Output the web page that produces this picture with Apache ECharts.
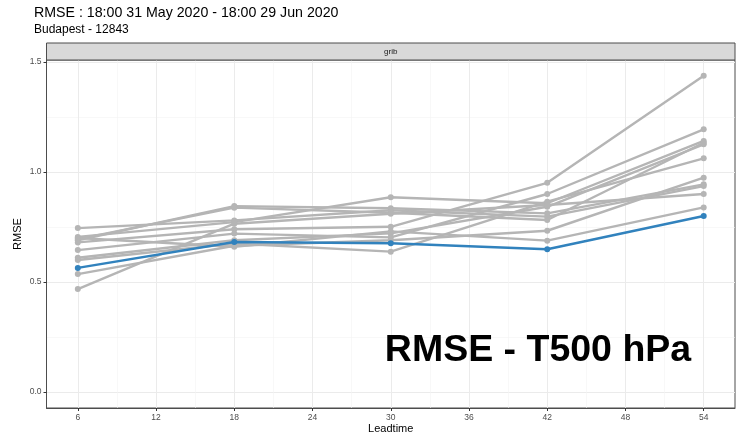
<!DOCTYPE html>
<html>
<head>
<meta charset="utf-8">
<script src="https://cdn.jsdelivr.net/npm/echarts@6/dist/echarts.min.js"></script>
<style>
html,body{margin:0;padding:0;background:#fff;}
#chart{width:738px;height:435px;}
</style>
</head>
<body>
<div id="chart"></div>
<script>
// ---- data ----
const leadtimes = [6, 18, 30, 42, 54];
const greyRuns = [
  [0.745, 0.780, 0.826, 0.797, 0.936],
  [0.690, 0.845, 0.835, 0.812, 0.944],
  [0.695, 0.838, 0.815, 0.782, 1.133],
  [0.705, 0.772, 0.885, 0.858, 1.141],
  [0.680, 0.740, 0.751, 0.951, 1.438],
  [0.645, 0.720, 0.703, 0.900, 1.194],
  [0.610, 0.690, 0.721, 0.842, 1.126],
  [0.600, 0.675, 0.638, 0.865, 1.062],
  [0.536, 0.665, 0.690, 0.733, 0.974],
  [0.468, 0.765, 0.810, 0.850, 0.900],
  [0.700, 0.660, 0.730, 0.688, 0.839]
];
const blueRun = [0.564, 0.682, 0.676, 0.649, 0.800];
const xTicks = [6, 12, 18, 24, 30, 36, 42, 48, 54];
const xMinor = [9, 15, 21, 27, 33, 39, 45, 51];
const yTicks = [0, 0.5, 1.0, 1.5];
const yMinor = [0.25, 0.75, 1.25];
const titleText = 'RMSE : 18:00 31 May 2020 - 18:00 29 Jun 2020';
const subtitleText = 'Budapest - 12843';
const stripText = 'grib';
const bigLabel = 'RMSE - T500 hPa';

// ---- layout ----
const FONT = '"Liberation Sans", Arial, sans-serif';
const PL = 46.5, PR = 735, PT = 60, PB = 408;
const greyCol = '#b5b5b5';
const blueCol = '#3182bd';

function pairs(vals) { return leadtimes.map((x, i) => [x, vals[i]]); }

const series = [];
greyRuns.forEach((r, i) => {
  series.push({
    type: 'line', name: 'run' + i, data: pairs(r),
    xAxisIndex: 0, yAxisIndex: 0,
    symbol: 'circle', symbolSize: 6, clip: false,
    lineStyle: { color: greyCol, width: 2.4 },
    itemStyle: { color: greyCol },
    emphasis: { disabled: true }, z: 3
  });
});
series.push({
  type: 'line', name: 'ref', data: pairs(blueRun),
  xAxisIndex: 0, yAxisIndex: 0,
  symbol: 'circle', symbolSize: 6, clip: false,
  lineStyle: { color: blueCol, width: 2.4 },
  itemStyle: { color: blueCol },
  emphasis: { disabled: true }, z: 4
});

const chart = echarts.init(document.getElementById('chart'), null, { renderer: 'canvas' });
chart.setOption({
  animation: false,
  backgroundColor: '#fff',
  textStyle: { fontFamily: FONT },
  grid: {
    left: PL, top: PT, width: PR - PL, height: PB - PT,
    containLabel: false, outerBoundsMode: 'none',
    show: true, borderColor: '#4d4d4d', borderWidth: 1, backgroundColor: '#fff'
  },
  xAxis: [
    {
      type: 'value', min: 3.6, max: 56.4, position: 'bottom',
      axisLine: { show: true, onZero: false, lineStyle: { color: '#4d4d4d', width: 1 } },
      axisTick: { show: true, length: 3, lineStyle: { color: '#333', width: 1 }, customValues: xTicks },
      axisLabel: { customValues: xTicks, color: '#4d4d4d', fontSize: 8.5, margin: 5, fontFamily: FONT },
      splitLine: { show: true, lineStyle: { color: '#ebebeb', width: 1 } },
      name: 'Leadtime', nameLocation: 'middle', nameGap: 15, nameMoveOverlap: false,
      nameTextStyle: { color: '#000', fontSize: 11, fontFamily: FONT }
    },
    {
      type: 'value', min: 3.6, max: 56.4, position: 'bottom',
      axisLine: { show: false, onZero: false },
      axisTick: { show: false, customValues: xMinor },
      axisLabel: { show: false, customValues: xMinor },
      splitLine: { show: true, lineStyle: { color: '#f3f3f3', width: 0.6 } }
    }
  ],
  yAxis: [
    {
      type: 'value', min: -0.0727, max: 1.5091, position: 'left',
      axisLine: { show: true, onZero: false, lineStyle: { color: '#4d4d4d', width: 1 } },
      axisTick: { show: true, length: 3, lineStyle: { color: '#333', width: 1 }, customValues: yTicks },
      axisLabel: { customValues: yTicks, color: '#4d4d4d', fontSize: 8.5, margin: 5, fontFamily: FONT,
        formatter: v => Number(v).toFixed(1) },
      splitLine: { show: true, lineStyle: { color: '#ebebeb', width: 1 } },
      name: 'RMSE', nameLocation: 'middle', nameGap: 23, nameRotate: 90, nameMoveOverlap: false,
      nameTextStyle: { color: '#000', fontSize: 11, fontFamily: FONT }
    },
    {
      type: 'value', min: -0.0727, max: 1.5091, position: 'left',
      axisLine: { show: false, onZero: false },
      axisTick: { show: false, customValues: yMinor },
      axisLabel: { show: false, customValues: yMinor },
      splitLine: { show: true, lineStyle: { color: '#f3f3f3', width: 0.6 } }
    }
  ],
  series: series,
  graphic: [
    { type: 'text', left: 34, top: 6, style: { text: titleText, fontSize: 14.2, fill: '#000', fontFamily: FONT } },
    { type: 'text', left: 34, top: 24, style: { text: subtitleText, fontSize: 12, fill: '#000', fontFamily: FONT } },
    { type: 'rect', shape: { x: PL, y: 43, width: PR - PL, height: PT - 43 },
      style: { fill: '#d9d9d9', stroke: '#4d4d4d', lineWidth: 1 }, z: 10 },
    { type: 'text', x: (PL + PR) / 2, y: 51.5, z: 11,
      style: { text: stripText, fontSize: 8, fill: '#1a1a1a', fontFamily: FONT, align: 'center', verticalAlign: 'middle' } },
    { type: 'text', x: 538, y: 351, z: 20,
      style: { text: bigLabel, fontSize: 37.5, fontWeight: 'bold', fill: '#000', fontFamily: FONT, align: 'center', verticalAlign: 'middle' } }
  ]
});
</script>
</body>
</html>
